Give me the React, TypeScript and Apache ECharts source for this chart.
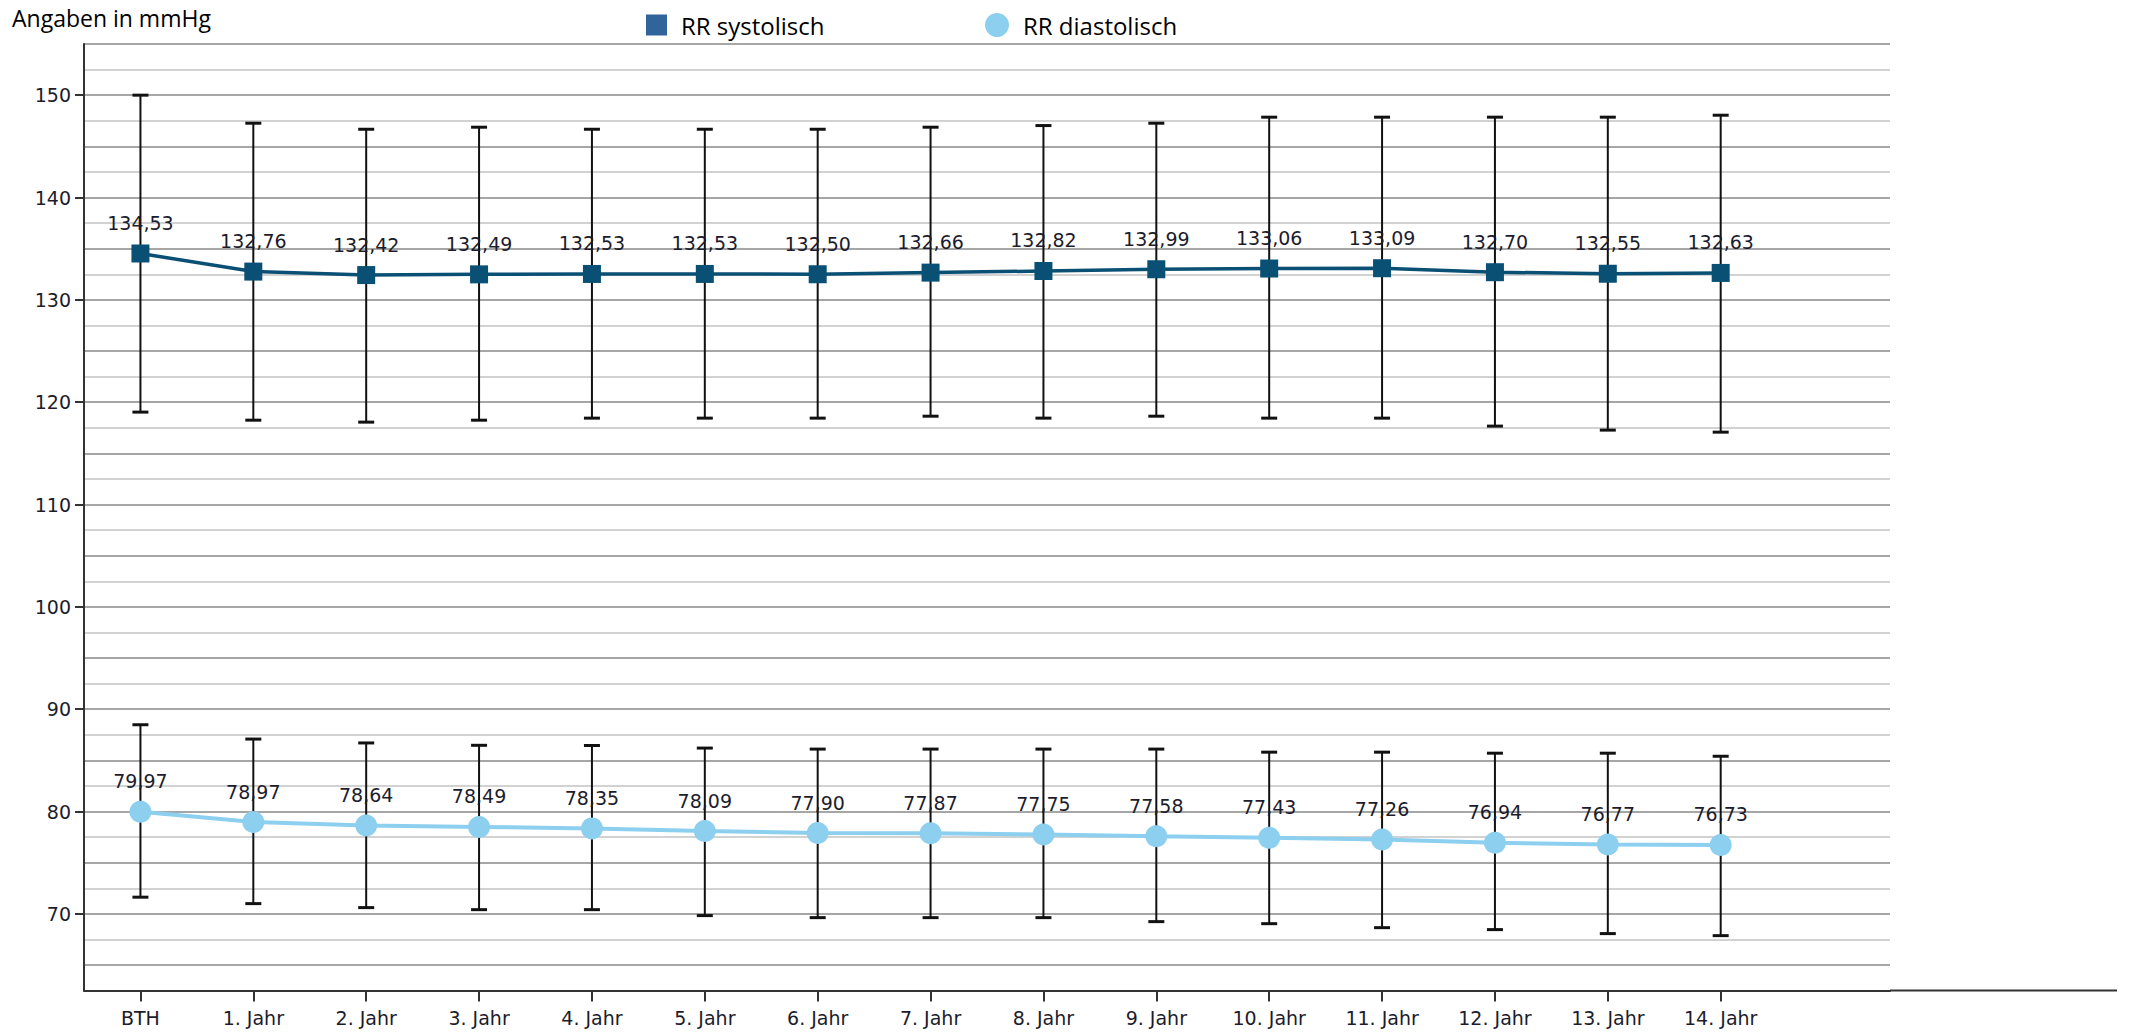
import React, { useEffect, useRef } from "react";
import * as echarts from "echarts";

const categories = [
  "BTH", "1. Jahr", "2. Jahr", "3. Jahr", "4. Jahr", "5. Jahr", "6. Jahr", "7. Jahr",
  "8. Jahr", "9. Jahr", "10. Jahr", "11. Jahr", "12. Jahr", "13. Jahr", "14. Jahr", "",
];

const systolic = [134.53, 132.76, 132.42, 132.49, 132.53, 132.53, 132.5, 132.66, 132.82, 132.99, 133.06, 133.09, 132.7, 132.55, 132.63];
const diastolic = [79.97, 78.97, 78.64, 78.49, 78.35, 78.09, 77.9, 77.87, 77.75, 77.58, 77.43, 77.26, 76.94, 76.77, 76.73];

const sysHigh = [150.0, 147.26, 146.67, 146.87, 146.67, 146.67, 146.67, 146.87, 147.03, 147.26, 147.85, 147.85, 147.85, 147.85, 148.04];
const sysLow = [119.03, 118.24, 118.05, 118.24, 118.44, 118.44, 118.44, 118.63, 118.44, 118.63, 118.44, 118.44, 117.66, 117.27, 117.07];
const diaHigh = [88.48, 87.08, 86.7, 86.47, 86.45, 86.2, 86.1, 86.1, 86.1, 86.1, 85.8, 85.8, 85.7, 85.7, 85.4];
const diaLow = [71.63, 71.0, 70.61, 70.41, 70.41, 69.83, 69.63, 69.63, 69.63, 69.24, 69.04, 68.65, 68.46, 68.07, 67.87];

const yTickLabels = [70, 80, 90, 100, 110, 120, 130, 140, 150];

const SYS_NAME = "RR systolisch";
const DIA_NAME = "RR diastolisch";

const fmt = (v: number) => v.toFixed(2).replace(".", ",");

export default function App() {
  const ref = useRef<HTMLDivElement>(null);

  useEffect(() => {
    if (!ref.current) return;
    const chart = echarts.init(ref.current, undefined, { renderer: "svg" });

    const GRID_LEFT = 84;
    const GRID_TOP = 44;
    const GRID_RIGHT_X = 1890;
    const GRID_BOTTOM_Y = 990.6;

    const errData = [
      ...sysHigh.map((h, i) => [i, sysLow[i], h]),
      ...diaHigh.map((h, i) => [i, diaLow[i], h]),
    ];

    const labelFont = "DejaVu Sans";
    const textColor = "#1c1c2c";
    const Y_MIN = 62.5;
    const Y_MAX = 155;

    const option: any = {
      animation: false,
      backgroundColor: "#ffffff",
      grid: {
        left: GRID_LEFT,
        top: GRID_TOP,
        width: GRID_RIGHT_X - GRID_LEFT,
        height: GRID_BOTTOM_Y - GRID_TOP,
        containLabel: false,
      },
      legend: [
        {
          left: 641,
          top: 8,
          itemWidth: 21,
          itemHeight: 21,
          data: [{ name: SYS_NAME, icon: "rect", itemStyle: { color: "#30649a" } }],
          textStyle: { fontFamily: "Open Sans", fontSize: 24, color: "#000", padding: [0, 0, 0, 9] },
          selectedMode: false,
        },
        {
          left: 980,
          top: 8,
          itemWidth: 24,
          itemHeight: 24,
          data: [{ name: DIA_NAME, icon: "circle", itemStyle: { color: "#8ccfef" } }],
          textStyle: { fontFamily: "Open Sans", fontSize: 24, color: "#000", padding: [0, 0, 0, 9] },
          selectedMode: false,
        },
      ],
      xAxis: {
        type: "category",
        data: categories,
        boundaryGap: true,
        axisLine: { show: true, lineStyle: { color: "#333", width: 2 } },
        axisTick: {
          show: true,
          alignWithLabel: true,
          length: 11,
          lineStyle: { color: "#333", width: 2 },
          interval: (_idx: number, val: string) => val !== "",
        },
        axisLabel: {
          interval: 0,
          fontFamily: labelFont,
          fontSize: 19,
          color: textColor,
          margin: 18,
        },
        splitLine: { show: false },
      },
      yAxis: [
        {
          type: "value",
          position: "left",
          min: Y_MIN,
          max: Y_MAX,
          interval: 2.5,
          z: 3,
          axisLine: { show: true, lineStyle: { color: "#333", width: 2 } },
          axisTick: {
            show: true,
            length: 9,
            customValues: yTickLabels,
            lineStyle: { color: "#333", width: 2 },
          },
          axisLabel: {
            customValues: yTickLabels,
            fontFamily: labelFont,
            fontSize: 19,
            color: textColor,
            margin: 13,
          },
          splitLine: { show: false },
        },
        {
          type: "value",
          position: "left",
          min: Y_MIN,
          max: Y_MAX,
          interval: 2.5,
          z: 0,
          axisLine: { show: false },
          axisTick: { show: false },
          axisLabel: { show: false },
          splitLine: {
            show: true,
            lineStyle: { color: ["#d2d2d2", "#a6a6a6"], width: 2 },
          },
        },
      ],
      graphic: [
        {
          type: "text",
          left: 12,
          top: 6,
          style: { text: "Angaben in mmHg", font: '23px "Open Sans"', fill: "#000" },
        },
        {
          type: "line",
          shape: { x1: GRID_RIGHT_X, y1: GRID_BOTTOM_Y, x2: 2117, y2: GRID_BOTTOM_Y },
          style: { stroke: "#333", lineWidth: 2 },
        },
      ],
      series: [
        {
          type: "custom",
          name: "err",
          z: 1,
          silent: true,
          yAxisIndex: 0,
          data: errData,
          encode: { x: 0, y: [1, 2] },
          renderItem: (_params: any, api: any) => {
            const x = api.value(0);
            const lo = api.coord([x, api.value(1)]);
            const hi = api.coord([x, api.value(2)]);
            const hw = 8;
            const st = { stroke: "#111", lineWidth: 2 };
            const cap = { stroke: "#111", lineWidth: 3 };
            return {
              type: "group",
              children: [
                { type: "line", shape: { x1: lo[0], y1: lo[1], x2: hi[0], y2: hi[1] }, style: st },
                { type: "line", shape: { x1: hi[0] - hw, y1: hi[1], x2: hi[0] + hw, y2: hi[1] }, style: cap },
                { type: "line", shape: { x1: lo[0] - hw, y1: lo[1], x2: lo[0] + hw, y2: lo[1] }, style: cap },
              ],
            };
          },
        },
        {
          type: "line",
          name: SYS_NAME,
          z: 3,
          yAxisIndex: 0,
          data: systolic,
          symbol: "rect",
          symbolSize: 18,
          lineStyle: { color: "#0a4f74", width: 3.5 },
          itemStyle: { color: "#0a4f74" },
          label: {
            show: true,
            position: "top",
            distance: 12,
            formatter: (p: any) => fmt(p.value),
            fontFamily: labelFont,
            fontSize: 19,
            color: textColor,
          },
        },
        {
          type: "line",
          name: DIA_NAME,
          z: 3,
          yAxisIndex: 0,
          data: diastolic,
          symbol: "circle",
          symbolSize: 22,
          lineStyle: { color: "#8ccfef", width: 4 },
          itemStyle: { color: "#8ccfef" },
          label: {
            show: true,
            position: "top",
            distance: 10,
            formatter: (p: any) => fmt(p.value),
            fontFamily: labelFont,
            fontSize: 19,
            color: textColor,
          },
        },
      ],
    };

    chart.setOption(option);
    return () => chart.dispose();
  }, []);

  return (
    <div
      ref={ref}
      style={{ position: "absolute", left: 0, top: 0, width: 2141, height: 1032 }}
    />
  );
}
